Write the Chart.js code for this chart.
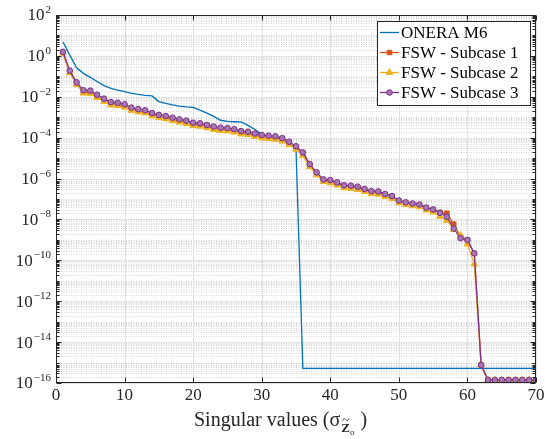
<!DOCTYPE html>
<html>
<head>
<meta charset="utf-8">
<script src="https://cdn.jsdelivr.net/npm/chart.js@4/dist/chart.umd.min.js"></script>
<style>
  body { margin: 0; background: #fff; }
  #wrap { width: 545px; height: 439px; }
</style>
</head>
<body>
<div id="wrap"><canvas id="chart" width="545" height="439"></canvas></div>
<script>
// singular value index 1..70
const idx = Array.from({ length: 70 }, (_, i) => i + 1);

const seriesNames = ['ONERA M6', 'FSW - Subcase 1', 'FSW - Subcase 2', 'FSW - Subcase 3'];

const oneraM6 = [
    4.9, 1.12, 0.26, 0.14, 0.089, 0.056, 0.035, 0.026, 0.021, 0.018,
    0.0148, 0.0132, 0.0117, 0.011, 0.0058, 0.0047, 0.004, 0.0035, 0.0032, 0.003,
    0.0022, 0.0016, 0.0011, 7.1e-4, 6.2e-4, 6.0e-4, 5.9e-4, 4.0e-4, 2.5e-4, 1.5e-4,
    1.1e-4, 9.5e-5, 7.6e-5, 5.6e-5, 2.8e-5, 5.2e-16, 5.2e-16, 5.2e-16, 5.2e-16, 5.2e-16,
    5.2e-16, 5.2e-16, 5.2e-16, 5.2e-16, 5.2e-16, 5.2e-16, 5.2e-16, 5.2e-16, 5.2e-16, 5.2e-16,
    5.2e-16, 5.2e-16, 5.2e-16, 5.2e-16, 5.2e-16, 5.2e-16, 5.2e-16, 5.2e-16, 5.2e-16, 5.2e-16,
    5.2e-16, 5.2e-16, 5.2e-16, 5.2e-16, 5.2e-16, 5.2e-16, 5.2e-16, 5.2e-16, 5.2e-16, 5.2e-16
];

const fswSub1 = [
    1.45, 0.17, 0.043, 0.017, 0.016, 0.0105, 6.6e-3, 4.5e-3, 4.1e-3, 3.5e-3,
    2.4e-3, 2.0e-3, 1.8e-3, 1.3e-3, 1.05e-3, 9.3e-4, 7.7e-4, 6.4e-4, 5.5e-4, 4.4e-4,
    4.1e-4, 3.4e-4, 2.9e-4, 2.5e-4, 2.4e-4, 2.1e-4, 1.75e-4, 1.6e-4, 1.3e-4, 1.1e-4,
    1.03e-4, 9.5e-5, 7.8e-5, 5.2e-5, 3.2e-5, 1.6e-5, 4.4e-6, 1.9e-6, 8.0e-7, 7.5e-7,
    5.8e-7, 4.3e-7, 4.0e-7, 3.6e-7, 2.8e-7, 2.2e-7, 2.1e-7, 1.6e-7, 1.3e-7, 8.0e-8,
    6.6e-8, 5.8e-8, 5.2e-8, 3.7e-8, 3.0e-8, 2.2e-8, 2.0e-8, 5.9e-9, 1.4e-9, 1.0e-9,
    2.2e-10, 7.6e-16, 1.4e-16, 1.4e-16, 1.4e-16, 1.4e-16, 1.4e-16, 1.4e-16, 1.4e-16, 1.4e-16
];

const fswSub2 = [
    1.35, 0.15, 0.04, 0.015, 0.014, 9.2e-3, 5.9e-3, 4.0e-3, 3.7e-3, 3.1e-3,
    2.15e-3, 1.8e-3, 1.6e-3, 1.15e-3, 9.5e-4, 8.3e-4, 6.9e-4, 5.7e-4, 4.9e-4, 3.9e-4,
    3.6e-4, 3.0e-4, 2.5e-4, 2.25e-4, 2.1e-4, 1.85e-4, 1.5e-4, 1.4e-4, 1.15e-4, 9.7e-5,
    9.0e-5, 8.3e-5, 6.7e-5, 4.5e-5, 2.7e-5, 1.35e-5, 3.8e-6, 1.5e-6, 7.0e-7, 6.2e-7,
    4.8e-7, 3.5e-7, 3.2e-7, 2.9e-7, 2.3e-7, 1.8e-7, 1.7e-7, 1.3e-7, 1.05e-7, 6.5e-8,
    5.3e-8, 4.6e-8, 4.1e-8, 2.9e-8, 2.3e-8, 1.4e-8, 9.0e-9, 3.2e-9, 1.7e-9, 6.3e-10,
    6.6e-11, 7.6e-16, 1.4e-16, 1.4e-16, 1.4e-16, 1.4e-16, 1.4e-16, 1.4e-16, 1.4e-16, 1.4e-16
];

const fswSub3 = [
    1.58, 0.19, 0.051, 0.021, 0.020, 0.0126, 8.1e-3, 5.5e-3, 5.1e-3, 4.3e-3,
    2.95e-3, 2.5e-3, 2.2e-3, 1.6e-3, 1.3e-3, 1.15e-3, 9.5e-4, 7.9e-4, 6.8e-4, 5.4e-4,
    5.0e-4, 4.2e-4, 3.5e-4, 3.1e-4, 2.95e-4, 2.6e-4, 2.1e-4, 1.95e-4, 1.6e-4, 1.35e-4,
    1.26e-4, 1.17e-4, 9.5e-5, 6.3e-5, 3.8e-5, 1.9e-5, 5.1e-6, 2.0e-6, 9.1e-7, 8.5e-7,
    6.5e-7, 4.7e-7, 4.5e-7, 4.0e-7, 3.1e-7, 2.45e-7, 2.35e-7, 1.75e-7, 1.4e-7, 8.5e-8,
    6.9e-8, 6.0e-8, 5.4e-8, 3.8e-8, 3.1e-8, 2.1e-8, 1.35e-8, 3.6e-9, 1.2e-9, 1.0e-9,
    2.2e-10, 7.6e-16, 1.4e-16, 1.4e-16, 1.4e-16, 1.4e-16, 1.4e-16, 1.4e-16, 1.4e-16, 1.4e-16
];

const xTicks = [0, 10, 20, 30, 40, 50, 60, 70];
const yExps = [2, 0, -2, -4, -6, -8, -10, -12, -14, -16];

const SERIF = '"Liberation Serif", "DejaVu Serif", serif';
const AXIS = '#262626';

const pts = (vals) => vals.map((v, i) => ({ x: idx[i], y: v }));

// grid, box, ticks, labels and legend drawn in MATLAB style
const matlabAxes = {
    id: 'matlabAxes',
    beforeDatasetsDraw(chart) {
        const { ctx, chartArea: a, scales: { x, y } } = chart;
        ctx.save();
        ctx.lineWidth = 1;
        // minor y grid (dotted)
        ctx.strokeStyle = 'rgba(0,0,0,0.16)';
        ctx.setLineDash([1, 1.5]);
        for (let k = -16; k < 2; k++) {
            for (let m = 1; m < 10; m++) {
                if (m === 1 && k % 2 === 0) continue;
                const py = Math.round(y.getPixelForValue(m * Math.pow(10, k))) + 0.5;
                ctx.beginPath(); ctx.moveTo(a.left, py); ctx.lineTo(a.right, py); ctx.stroke();
            }
        }
        // major grid
        ctx.setLineDash([]);
        ctx.strokeStyle = '#e2e2e2';
        yExps.forEach(e => {
            const py = Math.round(y.getPixelForValue(Math.pow(10, e))) + 0.5;
            ctx.beginPath(); ctx.moveTo(a.left, py); ctx.lineTo(a.right, py); ctx.stroke();
        });
        xTicks.forEach(t => {
            const px = Math.round(x.getPixelForValue(t)) + 0.5;
            ctx.beginPath(); ctx.moveTo(px, a.top); ctx.lineTo(px, a.bottom); ctx.stroke();
        });
        ctx.restore();
    },
    afterDraw(chart) {
        const { ctx, chartArea: a, scales: { x, y } } = chart;
        ctx.save();
        ctx.strokeStyle = AXIS;
        ctx.fillStyle = AXIS;
        ctx.lineWidth = 1;
        const L = Math.round(a.left) + 0.5, R = Math.round(a.right) - 0.5;
        const T = Math.round(a.top) + 0.5, B = Math.round(a.bottom) - 0.5;
        ctx.strokeRect(L, T, R - L, B - T);

        // y ticks both sides
        for (let k = -16; k <= 2; k++) {
            for (let m = 1; m < 10; m++) {
                if (k === 2 && m > 1) break;
                const major = m === 1 && k % 2 === 0;
                const len = major ? 5 : 3;
                const py = Math.round(y.getPixelForValue(m * Math.pow(10, k))) + 0.5;
                ctx.beginPath();
                ctx.moveTo(L, py); ctx.lineTo(L + len, py);
                ctx.moveTo(R, py); ctx.lineTo(R - len, py);
                ctx.stroke();
            }
        }
        // x ticks bottom and top
        xTicks.forEach(t => {
            const px = Math.round(x.getPixelForValue(t)) + 0.5;
            ctx.beginPath();
            ctx.moveTo(px, B); ctx.lineTo(px, B - 5);
            ctx.moveTo(px, T); ctx.lineTo(px, T + 5);
            ctx.stroke();
        });

        // x tick labels
        ctx.font = '17px ' + SERIF;
        ctx.textAlign = 'center';
        ctx.textBaseline = 'middle';
        xTicks.forEach(t => ctx.fillText(String(t), x.getPixelForValue(t), 396));

        // y tick labels 10^e
        yExps.forEach(e => {
            const py = y.getPixelForValue(Math.pow(10, e));
            const ex = e < 0 ? '\u2212' + (-e) : String(e);
            ctx.font = '11px ' + SERIF;
            const ew = ctx.measureText(ex).width;
            const right = 51;
            ctx.textAlign = 'left';
            ctx.textBaseline = 'alphabetic';
            ctx.fillText(ex, right - ew, py - 2);
            ctx.font = '17px ' + SERIF;
            ctx.textAlign = 'right';
            ctx.textBaseline = 'middle';
            ctx.fillText('10', right - ew - 1, py + 1);
        });

        // x axis title: Singular values (σ_{Z~_o})
        ctx.textAlign = 'left';
        ctx.textBaseline = 'alphabetic';
        const base = 426;
        let cx = 194;
        ctx.font = '20px ' + SERIF;
        const t1 = 'Singular values (\u03c3';
        ctx.fillText(t1, cx, base);
        cx += ctx.measureText(t1).width + 1;
        ctx.font = 'bold 13px ' + SERIF;
        ctx.fillText('Z', cx, base + 6);
        const zw = ctx.measureText('Z').width;
        ctx.font = '13px ' + SERIF;
        ctx.textAlign = 'center';
        ctx.fillText('~', cx + zw / 2, base - 2);
        ctx.textAlign = 'left';
        cx += zw;
        ctx.font = '9px ' + SERIF;
        ctx.fillText('o', cx, base + 9);
        cx += ctx.measureText('o').width + 6;
        ctx.font = '20px ' + SERIF;
        ctx.fillText(')', cx, base);

        // legend
        const bx = 377.5, by = 21.5, bw = 153, bh = 84;
        ctx.fillStyle = '#fff';
        ctx.fillRect(bx, by, bw, bh);
        ctx.strokeStyle = AXIS;
        ctx.lineWidth = 1;
        ctx.strokeRect(bx, by, bw, bh);
        chart.data.datasets.forEach((ds, i) => {
            const cy = 32.5 + i * 20;
            ctx.strokeStyle = ds.borderColor;
            ctx.lineWidth = 1.3;
            ctx.beginPath(); ctx.moveTo(380, cy); ctx.lineTo(399, cy); ctx.stroke();
            if (ds.pointRadius > 0) {
                ctx.fillStyle = ds.pointBackgroundColor;
                ctx.strokeStyle = ds.pointBorderColor;
                ctx.lineWidth = 1;
                Chart.helpers.drawPoint(ctx, {
                    pointStyle: ds.pointStyle, radius: ds.pointRadius,
                    borderWidth: 1, rotation: 0
                }, 389.5, cy);
            }
            ctx.fillStyle = '#000';
            ctx.font = '17px ' + SERIF;
            ctx.textAlign = 'left';
            ctx.textBaseline = 'middle';
            ctx.fillText(ds.label, 401, cy + 1);
        });
        ctx.restore();
    }
};

const datasets = [
    { label: seriesNames[0], data: pts(oneraM6), borderColor: '#0072BD', backgroundColor: '#0072BD',
      borderWidth: 1.3, pointRadius: 0, order: 3 },
    { label: seriesNames[1], data: pts(fswSub1), borderColor: '#D95319', backgroundColor: '#D95319',
      pointBackgroundColor: '#D95319', pointBorderColor: '#D95319', borderWidth: 1.3,
      pointStyle: 'rect', pointRadius: 3.2, pointBorderWidth: 1, order: 2 },
    { label: seriesNames[2], data: pts(fswSub2), borderColor: '#EDB120', backgroundColor: '#EDB120',
      pointBackgroundColor: '#EDB120', pointBorderColor: '#EDB120', borderWidth: 1.3,
      pointStyle: 'triangle', pointRadius: 3.8, pointBorderWidth: 1, order: 1 },
    { label: seriesNames[3], data: pts(fswSub3), borderColor: '#7E2F8E', backgroundColor: '#7E2F8E',
      pointBackgroundColor: '#A679AE', pointBorderColor: '#7E2F8E', borderWidth: 1.3,
      pointStyle: 'circle', pointRadius: 2.8, pointBorderWidth: 1, order: 0 }
];

const config = {
    type: 'line',
    data: { datasets: datasets },
    options: {
        responsive: false,
        animation: false,
        layout: { padding: { left: 56, right: 9, top: 15, bottom: 56 } },
        plugins: { legend: { display: false }, tooltip: { enabled: false } },
        scales: {
            x: { type: 'linear', min: 0, max: 70, display: false },
            y: { type: 'logarithmic', min: 1e-16, max: 1e2, display: false }
        }
    },
    plugins: [matlabAxes]
};

const chart = new Chart(document.getElementById('chart'), config);
</script>
</body>
</html>
